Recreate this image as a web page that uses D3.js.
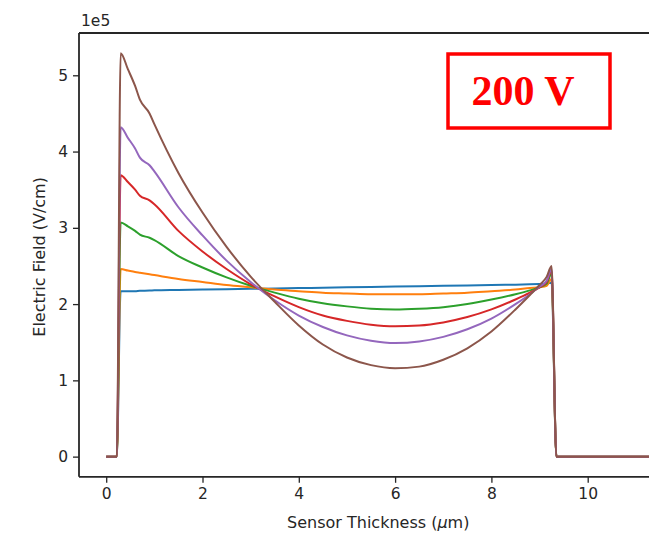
<!DOCTYPE html>
<html>
<head>
<meta charset="utf-8">
<script src="https://cdn.jsdelivr.net/npm/d3@7"></script>
<style>
  body { margin: 0; background: #fff; }
  text { font-family: 'DejaVu Sans', sans-serif; fill: #262626; }
</style>
</head>
<body>
<script>
// sensor thickness (um), shared by every bias curve
const thickness = [0, 0.22, 0.3, 0.45, 0.6, 0.7, 0.9, 1.0, 1.5, 2.0, 2.5, 3.0, 3.5, 4.0, 4.5, 5.0, 5.5, 6.0,
    6.5, 7.0, 7.5, 8.0, 8.5, 8.8, 9.0, 9.15, 9.25, 9.35, 11.3]

// electric field, units of 1e5 V/cm
const fieldBlue = [0, 0, 2.17, 2.17, 2.17, 2.175, 2.177, 2.18, 2.185, 2.19, 2.195, 2.20, 2.205, 2.21, 2.215, 2.22,
    2.225, 2.23, 2.235, 2.24, 2.245, 2.25, 2.255, 2.26, 2.265, 2.27, 2.28, 0, 0]
const fieldOrange = [0, 0, 2.46, 2.44, 2.42, 2.41, 2.39, 2.38, 2.33, 2.29, 2.25, 2.22, 2.19, 2.17, 2.15, 2.14,
    2.13, 2.13, 2.13, 2.14, 2.15, 2.17, 2.19, 2.21, 2.22, 2.24, 2.33, 0, 0]
const fieldGreen = [0, 0, 3.07, 3.02, 2.96, 2.91, 2.87, 2.84, 2.63, 2.48, 2.35, 2.24, 2.15, 2.07, 2.01, 1.97,
    1.94, 1.93, 1.94, 1.96, 2.00, 2.06, 2.13, 2.18, 2.22, 2.27, 2.40, 0, 0]
const fieldRed = [0, 0, 3.69, 3.60, 3.50, 3.42, 3.36, 3.31, 2.96, 2.69, 2.46, 2.26, 2.10, 1.96, 1.85, 1.78,
    1.73, 1.71, 1.72, 1.76, 1.83, 1.93, 2.06, 2.15, 2.22, 2.29, 2.44, 0, 0]
const fieldPurple = [0, 0, 4.32, 4.18, 4.04, 3.92, 3.82, 3.74, 3.27, 2.90, 2.57, 2.29, 2.05, 1.85, 1.70, 1.59,
    1.52, 1.49, 1.51, 1.57, 1.67, 1.81, 2.00, 2.13, 2.23, 2.31, 2.46, 0, 0]
const fieldBrown = [0, 0, 5.29, 5.08, 4.86, 4.68, 4.50, 4.36, 3.72, 3.20, 2.75, 2.36, 2.03, 1.72, 1.47, 1.30,
    1.20, 1.16, 1.18, 1.27, 1.42, 1.64, 1.93, 2.12, 2.25, 2.36, 2.50, 0, 0]

const seriesList = [fieldBlue, fieldOrange, fieldGreen, fieldRed, fieldPurple, fieldBrown]
const colors = ['#1f77b4', '#ff7f0e', '#2ca02c', '#d62728', '#9467bd', '#8c564b']

const xTicks = [0, 2, 4, 6, 8, 10]
const yTicks = [0, 1, 2, 3, 4, 5]
const voltageLabel = '200 V'

const W = 649, H = 535
const margin = { top: 33, left: 79 },
    width = 598.5,
    height = 443.8

const svg = d3.select('body').append('svg')
    .attr('width', W)
    .attr('height', H)

const g = svg.append('g')
    .attr('transform', 'translate(' + margin.left + ',' + margin.top + ')')

// matplotlib style 5% padding
const xMax = d3.max(thickness), yMax = d3.max(fieldBrown)
const x = d3.scaleLinear()
    .domain([-0.05 * xMax, 1.05 * xMax])
    .range([0, width])
const y = d3.scaleLinear()
    .domain([-0.05 * yMax, 1.05 * yMax])
    .range([height, 0])

const line = d3.line()
    .curve(d3.curveMonotoneX)
    .x((d) => x(d[0]))
    .y((d) => y(d[1]))

seriesList.forEach((vals, i) => {
    g.append('path')
        .datum(thickness.map((t, j) => [t, vals[j]]))
        .attr('fill', 'none')
        .attr('stroke', colors[i])
        .attr('stroke-width', 2)
        .attr('stroke-linejoin', 'round')
        .attr('d', line)
})

// axes
const xAxis = g.append('g')
    .attr('transform', 'translate(0,' + height + ')')
    .call(d3.axisBottom(x).tickValues(xTicks).tickSize(6).tickPadding(5).tickFormat(d3.format('d')))
const yAxis = g.append('g')
    .call(d3.axisLeft(y).tickValues(yTicks).tickSize(6).tickPadding(5).tickFormat(d3.format('d')))

;[xAxis, yAxis].forEach((ax) => {
    ax.select('.domain').remove()
    ax.selectAll('.tick line').attr('stroke', '#262626').attr('stroke-width', 1.3)
    ax.selectAll('.tick text').style('font-size', '15.5px').attr('fill', '#262626')
        .style('font-family', "'DejaVu Sans', sans-serif")
})

// spines
const spines = [[0, 0, width, 0], [0, height, width, height], [0, 0, 0, height], [width, 0, width, height]]
spines.forEach((s) => {
    g.append('line')
        .attr('x1', s[0]).attr('y1', s[1]).attr('x2', s[2]).attr('y2', s[3])
        .attr('stroke', '#262626').attr('stroke-width', 1.8)
})

// offset text
g.append('text')
    .attr('x', 2)
    .attr('y', -7)
    .style('font-size', '15.5px')
    .text('1e5')

// axis titles
const xTitle = g.append('text')
    .attr('x', width / 2)
    .attr('y', height + 51)
    .attr('text-anchor', 'middle')
    .style('font-size', '16px')
xTitle.append('tspan').text('Sensor Thickness (')
xTitle.append('tspan').style('font-style', 'italic').text('μ')
xTitle.append('tspan').text('m)')

g.append('text')
    .attr('transform', 'translate(' + (-34) + ',' + (height / 2 + 2) + ') rotate(-90)')
    .attr('text-anchor', 'middle')
    .style('font-size', '16px')
    .text('Electric Field (V/cm)')

// voltage box
svg.append('rect')
    .attr('x', 448)
    .attr('y', 54)
    .attr('width', 162)
    .attr('height', 74)
    .attr('fill', '#fff')
    .attr('stroke', '#ff0000')
    .attr('stroke-width', 3.5)

svg.append('text')
    .attr('x', 523)
    .attr('y', 105)
    .attr('text-anchor', 'middle')
    .style('font-family', "'Liberation Serif', 'Times New Roman', serif")
    .style('font-weight', 'bold')
    .style('font-size', '42px')
    .style('fill', '#ff0000')
    .text(voltageLabel)
</script>
</body>
</html>
